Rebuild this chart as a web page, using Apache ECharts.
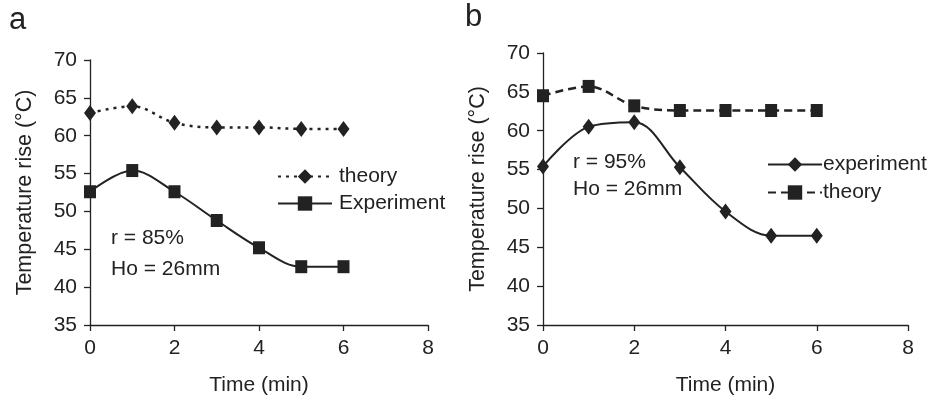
<!DOCTYPE html>
<html><head><meta charset="utf-8">
<script src="https://cdn.jsdelivr.net/npm/echarts@6/dist/echarts.min.js"></script>
<style>html,body{margin:0;padding:0;background:#fff}#c{width:930px;height:401px}</style>
</head><body><div id="c"></div>
<script>
var times = [0, 1, 2, 3, 4, 5, 6];
var theoryA = [63.0, 63.9, 61.7, 61.1, 61.1, 60.9, 60.9];
var experimentA = [52.6, 55.4, 52.6, 48.8, 45.2, 42.7, 42.7];
var experimentB = [55.4, 60.5, 61.1, 55.3, 49.6, 46.5, 46.5];
var theoryB = [64.5, 65.7, 63.2, 62.6, 62.6, 62.6, 62.6];
var panelLabels = ['a', 'b'];
var annotA = ['r = 85%', 'Ho = 26mm'];
var annotB = ['r = 95%', 'Ho = 26mm'];
var yTitle = 'Temperature rise (\u00B0C)';
var xTitle = 'Time (min)';

function pairs(v){ return times.map(function(t,i){ return [t, v[i]]; }); }
var FONT = '"Liberation Sans", Arial, sans-serif';
var INK = '#222';
function xAxis(gi){ return {gridIndex:gi, type:'value', min:0, max:8, interval:2,
  name:xTitle, nameLocation:'middle', nameGap:50, nameTextStyle:{fontFamily:FONT,fontSize:21,color:INK},
  axisLine:{lineStyle:{color:INK,width:1.3}}, axisTick:{inside:false,length:6,lineStyle:{color:INK,width:1.3}},
  axisLabel:{fontFamily:FONT,fontSize:21,color:INK,margin:13}, splitLine:{show:false}}; }
function yAxis(gi){ return {gridIndex:gi, type:'value', min:35, max:70, interval:5,
  name:yTitle, nameLocation:'middle', nameGap:54, nameRotate:90, nameTextStyle:{fontFamily:FONT,fontSize:21.5,color:INK},
  axisLine:{show:true,lineStyle:{color:INK,width:1.3}}, axisTick:{show:true,length:6,lineStyle:{color:INK,width:1.3}},
  axisLabel:{fontFamily:FONT,fontSize:21,color:INK,margin:13}, splitLine:{show:false}}; }

var chart = echarts.init(document.getElementById('c'));
chart.setOption({
  animation:false,
  backgroundColor:'#fff',
  grid:[{left:90,top:60,width:338,height:267},{left:543,top:53,width:365,height:274}],
  xAxis:[xAxis(0), xAxis(1)],
  yAxis:[yAxis(0), yAxis(1)],
  legend:[
    {orient:'vertical', left:272, top:161, itemWidth:54, itemHeight:18, itemGap:6,
     data:['theory','Experiment'], formatter:function(n){return n.trim();},
     textStyle:{fontFamily:FONT,fontSize:21,color:INK,padding:[0,0,0,2]}, selectedMode:false},
    {orient:'vertical', left:762, top:149, itemWidth:54, itemHeight:18, itemGap:7,
     data:['experiment','theory '], formatter:function(n){return n.trim();},
     textStyle:{fontFamily:FONT,fontSize:21,color:INK,padding:[0,0,0,-4]}, selectedMode:false}
  ],
  graphic:[
    {type:'text', left:9, top:5, style:{text:panelLabels[0], font:'31px '+FONT, fill:INK}},
    {type:'text', left:465, top:2, style:{text:panelLabels[1], font:'31px '+FONT, fill:INK}},
    {type:'text', left:111, top:228, style:{text:annotA[0], font:'21px '+FONT, fill:INK}},
    {type:'text', left:111, top:259, style:{text:annotA[1], font:'21px '+FONT, fill:INK}},
    {type:'text', left:573, top:152, style:{text:annotB[0], font:'21px '+FONT, fill:INK}},
    {type:'text', left:573, top:179, style:{text:annotB[1], font:'21px '+FONT, fill:INK}}
  ],
  series:[
    {name:'theory', type:'line', xAxisIndex:0, yAxisIndex:0, data:pairs(theoryA), smooth:0.35,
     symbol:'diamond', symbolSize:[12,16], itemStyle:{color:INK}, lineStyle:{color:INK,width:2.5,type:[3,5]}},
    {name:'Experiment', type:'line', xAxisIndex:0, yAxisIndex:0, data:pairs(experimentA), smooth:0.35,
     symbol:'rect', symbolSize:[12,13], itemStyle:{color:INK}, lineStyle:{color:INK,width:2}},
    {name:'experiment', type:'line', xAxisIndex:1, yAxisIndex:1, data:pairs(experimentB), smooth:0.35,
     symbol:'diamond', symbolSize:[12,16], itemStyle:{color:INK}, lineStyle:{color:INK,width:2}},
    {name:'theory ', type:'line', xAxisIndex:1, yAxisIndex:1, data:pairs(theoryB), smooth:0.35,
     symbol:'rect', symbolSize:[12,13], itemStyle:{color:INK}, lineStyle:{color:INK,width:2.5,type:[8,5]}}
  ]
});
</script></body></html>
